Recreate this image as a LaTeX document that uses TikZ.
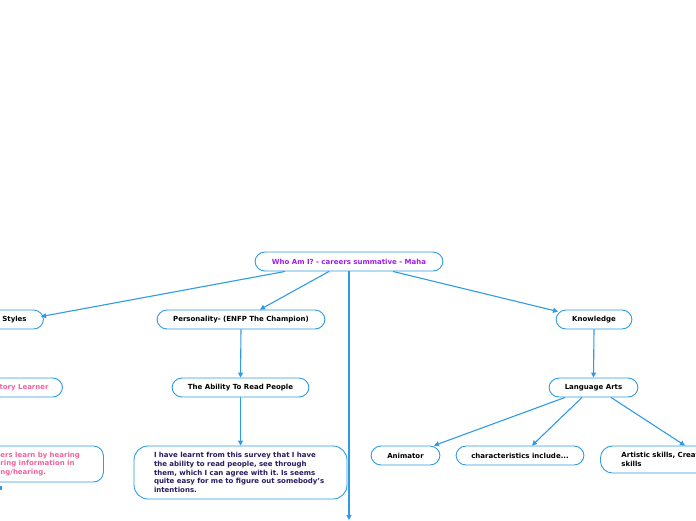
\documentclass[tikz,border=0pt]{standalone}
\usepackage{fontspec}
\setmainfont{DejaVu Sans}
\usetikzlibrary{arrows.meta,calc}
\definecolor{edgeblue}{HTML}{2E9BE2}
\definecolor{rootpurple}{HTML}{9B1FE8}
\definecolor{pinktext}{HTML}{F0639E}
\definecolor{navytext}{HTML}{2A1A60}
\frenchspacing
\tikzset{
  mm/.style={draw=edgeblue, line width=0.9pt, rounded corners=10pt, fill=white,
    font=\fontsize{7.0}{8.8}\selectfont\bfseries, text=black,
    minimum height=19pt, inner ysep=0pt},
  conn/.style={draw=edgeblue, line width=1.1pt, -{Triangle[length=5pt,width=5pt]}},
}
\begin{document}
\begin{tikzpicture}[x=1pt,y=-1pt]
\useasboundingbox (0,0) rectangle (696,520);
% nodes
\node[mm, text=rootpurple, minimum width=188pt] (root) at (349,261.5) {Who Am I? - careers summative - Maha};
\node[mm, minimum width=58pt] (styles) at (14.5,319.5) {Styles};
\node[mm, minimum width=168pt] (pers) at (241,319.5) {Personality- (ENFP The Champion)};
\node[mm, minimum width=76pt] (know) at (594,319.5) {Knowledge};
\node[mm, text=pinktext, text width=50pt, align=left, inner xsep=13pt, anchor=east] (aud) at (63,387.5) {tory Learner};
\node[mm, minimum width=137pt] (read) at (240.5,387.5) {The Ability To Read People};
\node[mm, minimum width=89pt] (lang) at (593.5,387.5) {Language Arts};
\node[mm, text=pinktext, text width=83pt, align=left, inner xsep=20pt, minimum height=36pt, anchor=west] (auddesc) at (-20,464) {ers learn by hearing\\ring information in\\ng/hearing.};
\node[mm, rounded corners=14pt, text=navytext, text width=173pt, align=left, inner xsep=20pt, minimum height=53pt] (survey) at (240.5,472.5) {I have learnt from this survey that I have\\the ability to read people, see through\\them, which I can agree with it. Is seems\\quite easy for me to figure out somebody's\\intentions.};
\node[mm, minimum width=69pt] (anim) at (405.5,455.5) {Animator};
\node[mm, minimum width=128pt] (chars) at (520,455.5) {characteristics include...};
\node[mm, rounded corners=12pt, text width=100pt, align=left, inner xsep=21pt, minimum height=27pt, anchor=west] (art) at (600,459.5) {Artistic skills, Creat\\skills};
\coordinate (down) at (349,520);
% connectors
\draw[conn] ([xshift=-64pt]root.south) -- ([xshift=26.5pt,yshift=-7pt]styles.north);
\draw[conn] ([xshift=-20pt]root.south) -- ([xshift=19pt]pers.north);
\draw[conn] ([xshift=44pt]root.south) -- ([xshift=-36pt,yshift=-2pt]know.north);
\draw[conn] (root.south) -- (down);
\draw[conn] (pers.south) -- (read.north);
\draw[conn] (read.south) -- (survey.north);
\draw[conn] (know.south) -- (lang.north);
\draw[conn] ([xshift=-28.5pt]lang.south) -- ([xshift=28.5pt]anim.north);
\draw[conn] ([xshift=-11.5pt]lang.south) -- ([xshift=12pt]chars.north);
\draw[conn] ([xshift=17.5pt]lang.south) -- ([xshift=85pt]art.north west);
\draw[draw=edgeblue, line width=1.1pt] ([xshift=21pt,yshift=-4pt]auddesc.south west) -- ++(0,4);
\end{tikzpicture}
\end{document}
